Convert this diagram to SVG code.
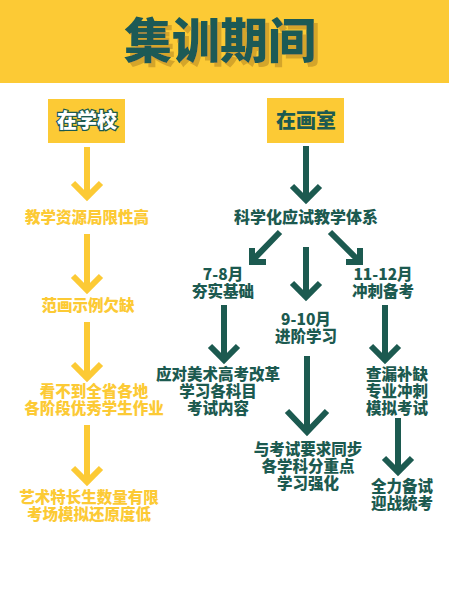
<svg xmlns="http://www.w3.org/2000/svg" width="449" height="600" viewBox="0 0 449 600">
<defs>
<filter id="sh" x="-10%" y="-20%" width="130%" height="150%">
<feFlood flood-color="#D4A52A" result="c"/>
<feComposite in="c" in2="SourceAlpha" operator="in" result="s"/>
<feOffset in="s" dx="4" dy="4" result="o"/>
<feMerge><feMergeNode in="o"/><feMergeNode in="SourceGraphic"/></feMerge>
</filter>
</defs>
<style>
text{font-family:"Noto Sans CJK SC","Noto Sans",sans-serif;font-weight:900;text-anchor:middle}
.y{fill:#FCCA35}
.g{fill:#1C5A50}
.ya{stroke:#FCCA35;stroke-width:6;fill:none;stroke-linecap:butt;stroke-linejoin:miter}
.ga{stroke:#1C5A50;stroke-width:6;fill:none;stroke-linecap:butt;stroke-linejoin:miter}
.t{font-size:15.5px}
.t16{font-size:16px}
</style>
<rect x="0" y="0" width="449" height="600" fill="#ffffff"/>
<g id="header">
<rect x="0" y="0" width="449" height="83" fill="#FCCA35"/>
<text x="220" y="58" font-size="48" fill="#1C5A57" filter="url(#sh)">集训期间</text>
</g>
<g id="school">
<rect x="48" y="99" width="77" height="44" fill="#FCCA35"/>
<text x="87" y="128" font-size="20" fill="#ffffff" stroke="#1C5A50" stroke-width="2.5" paint-order="stroke">在学校</text>
</g>
<g id="studio">
<rect x="267" y="98" width="77" height="45" fill="#FCCA35"/>
<text x="306" y="128" font-size="20" class="g">在画室</text>
</g>
<g id="connectors">
<path class="ya" d="M87 147V196M73 183L87 197L101 183"/>
<path class="ya" d="M87 234V289M73 276L87 290L101 276"/>
<path class="ya" d="M87 322V377M73 364L87 378L101 364"/>
<path class="ya" d="M87 425V481M73 468L87 482L101 468"/>
<path class="ga" d="M306 146V200M292 186L306 200L320 186"/>
<path class="ga" d="M280 232L252 261M252 248V262H266"/>
<path class="ga" d="M330 232L359 261M360 248V262H346"/>
<path class="ga" d="M306 247V296M292 283L306 297L320 283"/>
<path class="ga" d="M224 305V360M210 346L224 360L238 346"/>
<path class="ga" d="M385 305V360M371 346L385 360L399 346"/>
<path class="ga" d="M307 356V432M287 411L307 432L327 411" stroke-width="10"/>
<path class="ga" d="M398 418V472M384 458L398 472L412 458"/>
</g>
<g id="l1"><text x="87" y="223" class="t y">教学资源局限性高</text></g>
<g id="l2"><text x="88" y="311" class="t y">范画示例欠缺</text></g>
<g id="l3"><text class="t y"><tspan x="94" y="397">看不到全省各地</tspan><tspan x="94" y="414">各阶段优秀学生作业</tspan></text></g>
<g id="l4"><text class="t y"><tspan x="89" y="503">艺术特长生数量有限</tspan><tspan x="89" y="520">考场模拟还原度低</tspan></text></g>
<g id="r1"><text x="306" y="223" class="t16 g">科学化应试教学体系</text></g>
<g id="r2"><text class="t g"><tspan x="223" y="280">7-8月</tspan><tspan x="223" y="297">夯实基础</tspan></text></g>
<g id="r3"><text class="t g"><tspan x="383" y="280">11-12月</tspan><tspan x="383" y="297">冲刺备考</tspan></text></g>
<g id="r4"><text class="t g"><tspan x="306" y="325">9-10月</tspan><tspan x="306" y="342">进阶学习</tspan></text></g>
<g id="r5"><text class="t g"><tspan x="218" y="380">应对美术高考改革</tspan><tspan x="218" y="397">学习各科目</tspan><tspan x="218" y="414">考试内容</tspan></text></g>
<g id="r6"><text class="t g"><tspan x="397" y="380">查漏补缺</tspan><tspan x="397" y="397">专业冲刺</tspan><tspan x="397" y="414">模拟考试</tspan></text></g>
<g id="r7"><text class="t g"><tspan x="308" y="455">与考试要求同步</tspan><tspan x="308" y="472">各学科分重点</tspan><tspan x="308" y="489">学习强化</tspan></text></g>
<g id="r8"><text class="t g"><tspan x="402" y="492">全力备试</tspan><tspan x="402" y="509">迎战统考</tspan></text></g>
</svg>
